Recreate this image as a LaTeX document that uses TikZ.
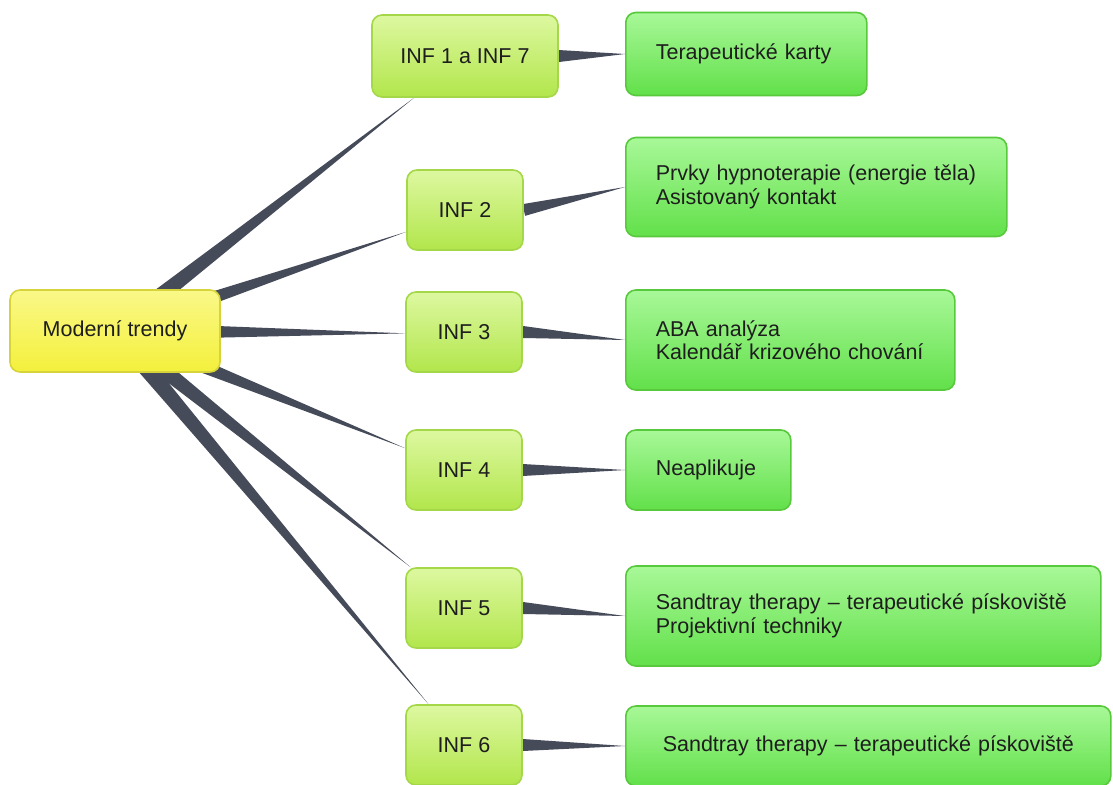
\documentclass[tikz,border=0pt]{standalone}
\usepackage{fontspec}
\setmainfont{Liberation Sans}
\usetikzlibrary{calc,positioning,backgrounds}

\definecolor{rootfill}{HTML}{F4F03C}
\definecolor{roottop}{HTML}{FAF888}
\definecolor{rootline}{HTML}{D6D43A}
\definecolor{inffill}{HTML}{B2E64C}
\definecolor{inftop}{HTML}{DDF8A0}
\definecolor{infline}{HTML}{A4D848}
\definecolor{leaffill}{HTML}{62E04A}
\definecolor{leaftop}{HTML}{A8F898}
\definecolor{leafline}{HTML}{58C83C}
\definecolor{wedgecol}{HTML}{464B5A}
\definecolor{txt}{HTML}{1E1E1E}

\newcommand{\taper}[3]{\fill[wedgecol] ($(#1)!#3!90:(#2)$) -- ($(#1)!#3!-90:(#2)$) -- (#2) -- cycle;}

\begin{document}
\begin{tikzpicture}[x=1pt, y=-1pt,
    box/.style={rounded corners=10pt, line width=1.6pt, text=txt,
      font=\fontsize{21.5}{23.5}\selectfont},
    rootbox/.style={box, draw=rootline, top color=roottop, bottom color=rootfill,
      minimum width=210pt, minimum height=82pt},
    infbox/.style={box, draw=infline, top color=inftop, bottom color=inffill,
      minimum width=116pt, minimum height=80pt},
    leafbox/.style={box, draw=leafline, top color=leaftop, bottom color=leaffill,
      align=left, inner xsep=30pt}]
  \useasboundingbox (0,0) rectangle (1113,784);

  \node[rootbox] (mt) at (115,331) {Moderní trendy};

  \node[infbox, minimum width=186pt, minimum height=82pt] (inf1) at (465,56) {INF 1 a INF 7};
  \node[infbox] (inf2) at (465,210) {INF 2};
  \node[infbox] (inf3) at (464,332) {INF 3};
  \node[infbox] (inf4) at (464,470) {INF 4};
  \node[infbox] (inf5) at (464,608) {INF 5};
  \node[infbox] (inf6) at (464,745) {INF 6};

  \node[leafbox, text width=181pt, minimum height=83pt, anchor=west] (karty) at (625,54) {Terapeutické karty};
  \node[leafbox, text width=321pt, minimum height=99pt, anchor=west] (prvky) at (625,187)
    {Prvky hypnoterapie (energie těla)\\Asistovaný kontakt};
  \node[leafbox, text width=269pt, minimum height=100pt, anchor=west] (aba) at (625,340)
    {ABA analýza\\Kalendář krizového chování};
  \node[leafbox, text width=105pt, minimum height=80pt, anchor=west] (neapl) at (625,470) {Neaplikuje};
  \node[leafbox, text width=415pt, minimum height=100pt, anchor=west] (sand5) at (625,616)
    {Sandtray therapy -- terapeutické pískoviště\\Projektivní techniky};
  \node[leafbox, align=center, text width=425pt, minimum height=80pt, anchor=west] (sand6) at (625,746)
    {Sandtray therapy -- terapeutické pískoviště};

  \begin{pgfonlayer}{background}
    \foreach \i in {1,...,6} {\taper{mt}{inf\i}{9pt}}
    \taper{inf1.east}{karty.west}{6pt}
    \taper{inf2.east}{prvky.west}{6pt}
    \taper{inf3.east}{aba.west}{6pt}
    \taper{inf4.east}{neapl.west}{6pt}
    \taper{inf5.east}{sand5.west}{6pt}
    \taper{inf6.east}{sand6.west}{6pt}
  \end{pgfonlayer}
\end{tikzpicture}
\end{document}
